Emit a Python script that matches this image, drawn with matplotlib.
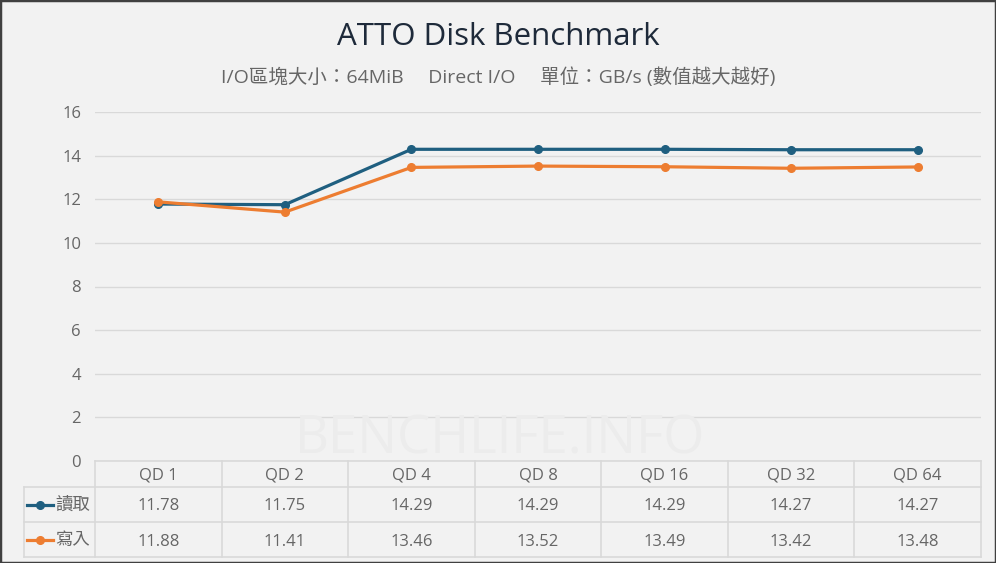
import matplotlib
matplotlib.use("Agg")
import matplotlib.pyplot as plt
from matplotlib.lines import Line2D
from matplotlib.patches import Rectangle

plt.rcParams['font.family'] = ['Open Sans', 'Noto Sans CJK TC', 'DejaVu Sans']

categories = ["QD 1", "QD 2", "QD 4", "QD 8", "QD 16", "QD 32", "QD 64"]
read_vals = [11.78, 11.75, 14.29, 14.29, 14.29, 14.27, 14.27]
write_vals = [11.88, 11.41, 13.46, 13.52, 13.49, 13.42, 13.48]
series_names = ["讀取", "寫入"]
yticks = [0, 2, 4, 6, 8, 10, 12, 14, 16]

title = "ATTO Disk Benchmark"
subtitle = "I/O區塊大小：64MiB　 Direct I/O　 單位：GB/s (數值越大越好)"

BG = "#f2f2f2"
BLUE = "#1f5f80"
ORANGE = "#ed7d31"
GRID = "#d9d9d9"
TXT = "#666666"

W, H = 996, 563
fig = plt.figure(figsize=(W / 100, H / 100), dpi=100, facecolor=BG)

def px_axes(x0, y0, x1, y1):
    return fig.add_axes([x0 / W, 1 - y1 / H, (x1 - x0) / W, (y1 - y0) / H])

# main plot
ax = px_axes(95, 112, 981, 461)
ax.set_facecolor(BG)
n = len(categories)
xs = list(range(n))
ax.set_xlim(-0.5, n - 0.5)
ax.set_ylim(0, 16)
ax.set_yticks(yticks)
ax.set_yticklabels([str(t) for t in yticks], color=TXT, fontsize=12)
ax.tick_params(axis='y', length=0, pad=10)
ax.set_xticks([])
for s in ax.spines.values():
    s.set_visible(False)
ax.grid(axis='y', color=GRID, linewidth=1)
ax.set_axisbelow(True)
ax.plot(xs, read_vals, color=BLUE, lw=2.3, marker='o', ms=5.5, zorder=3, clip_on=False)
ax.plot(xs, write_vals, color=ORANGE, lw=2.3, marker='o', ms=5.5, zorder=3, clip_on=False)

# watermark
fig.text(500 / W, 1 - 440 / H, "BENCHLIFE.INFO", ha='center', va='center',
         fontsize=38, color='#ececec', zorder=0)

# data table
tab = px_axes(95, 461, 981, 557)
tab.set_xlim(-0.5, n - 0.5)
tab.set_ylim(3, 0)
tab.axis('off')
lc = dict(color=GRID, lw=1.2, clip_on=False)
unit = (981 - 95) / n
lab_left = -0.5 - (95 - 24) / unit
row_y = [0, 26 / 96 * 3, 61 / 96 * 3, 3]
tab.plot([-0.5, n - 0.5], [row_y[0]] * 2, **lc)
for yy in row_y[1:]:
    tab.plot([lab_left, n - 0.5], [yy, yy], **lc)
for i in range(n + 1):
    tab.plot([i - 0.5, i - 0.5], [row_y[0], row_y[3]], **lc)
tab.plot([lab_left, lab_left], [row_y[1], row_y[3]], **lc)

tk = dict(ha='center', va='center_baseline', color=TXT, fontsize=12)
for i, c in enumerate(categories):
    tab.text(i, (row_y[0] + row_y[1]) / 2, c, **tk)
    tab.text(i, (row_y[1] + row_y[2]) / 2, f"{read_vals[i]:.2f}", **tk)
    tab.text(i, (row_y[2] + row_y[3]) / 2, f"{write_vals[i]:.2f}", **tk)

for k, (name, col) in enumerate(zip(series_names, [BLUE, ORANGE])):
    yc = (row_y[k + 1] + row_y[k + 2]) / 2
    x0 = -0.5 - (95 - 27) / unit
    x1 = -0.5 - (95 - 53) / unit
    xm = -0.5 - (95 - 40) / unit
    tab.add_line(Line2D([x0, x1], [yc, yc], color=col, lw=2.3, clip_on=False))
    tab.add_line(Line2D([xm], [yc], color=col, marker='o', ms=5.5, clip_on=False))
    tab.text(-0.5 - (95 - 73) / unit, yc, name, ha='center', va='center', color=TXT,
             fontsize=12.5, family=['Noto Sans CJK TC', 'DejaVu Sans'])

# titles
fig.text(498 / W, 1 - 37 / H, title, ha='center', va='center', fontsize=22.5, color='#1e2a3a')
fig.text(498 / W, 1 - 77 / H, subtitle, ha='center', va='center', fontsize=14, color=TXT,
         family=['Open Sans', 'Noto Sans CJK TC', 'DejaVu Sans'])

# figure border
fig.patches.append(Rectangle((0, 0), 1, 1, transform=fig.transFigure, fill=False,
                             edgecolor='#404040', lw=2.5, zorder=10))

fig.savefig("out.png", dpi=100, facecolor=BG)
